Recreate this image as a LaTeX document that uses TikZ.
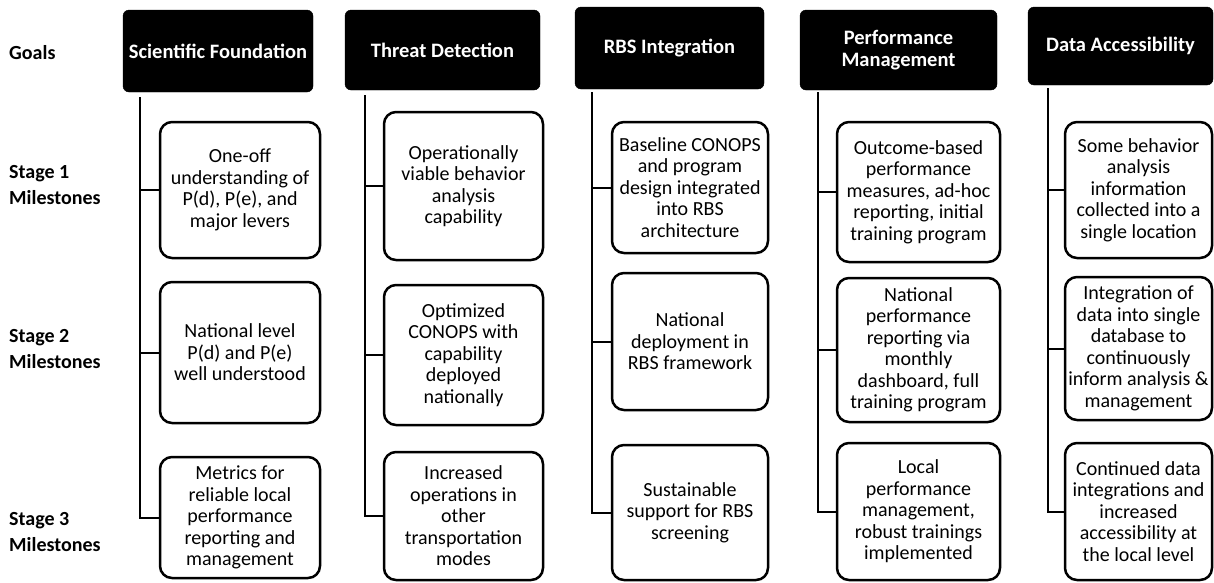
\documentclass[tikz,border=0pt]{standalone}
\usepackage{fontspec}
\setmainfont{Carlito}
\begin{document}
\begin{tikzpicture}[x=1pt,y=-1pt,
  goal/.style={fill=black, draw=black, rounded corners=6pt, text=white,
    font=\bfseries\fontsize{20.5}{21.5}\selectfont, align=center, inner sep=1pt},
  mbox/.style={draw=black, line width=2.5pt, rounded corners=12pt, fill=white,
    font=\fontsize{20}{21.5}\selectfont, align=center, inner sep=1pt},
  rowlab/.style={anchor=west, font=\bfseries\fontsize{20}{26}\selectfont, align=left, inner sep=0pt},
  link/.style={line width=2pt}]
\useasboundingbox (0,0) rectangle (1214,582);

% row labels
\node[rowlab] (lg) at (9,53) {Goals};
\node[rowlab] (l1) at (9,185) {Stage 1\\Milestones};
\node[rowlab] (l2) at (9,349) {Stage 2\\Milestones};
\node[rowlab] (l3) at (9,532) {Stage 3\\Milestones};

% goals
\node[goal, minimum width=190pt, minimum height=82pt] (g1) at (218,51) {Scientific Foundation};
\node[goal, minimum width=195pt, minimum height=80pt] (g2) at (442.5,50) {Threat Detection};
\node[goal, minimum width=189pt, minimum height=82pt] (g3) at (669.5,48) {RBS Integration};
\node[goal, minimum width=197pt, minimum height=80pt] (g4) at (898.5,50) {Performance\\Management};
\node[goal, minimum width=185pt, minimum height=78pt] (g5) at (1120.5,46) {Data Accessibility};

% column 1
\node[mbox, minimum width=160pt, minimum height=136pt] (a1) at (240,190) {One-off\\understanding of\\P(d), P(e), and\\major levers};
\node[mbox, minimum width=160pt, minimum height=141pt] (a2) at (240,352.5) {National level\\P(d) and P(e)\\well understood};
\node[mbox, minimum width=160pt, minimum height=121pt] (a3) at (240,517.5) {Metrics for\\reliable local\\performance\\reporting and\\management};
% column 2
\node[mbox, minimum width=159pt, minimum height=148pt] (b1) at (463.5,186) {Operationally\\viable behavior\\analysis\\capability};
\node[mbox, minimum width=159pt, minimum height=140pt] (b2) at (463.5,355) {Optimized\\CONOPS with\\capability\\deployed\\nationally};
\node[mbox, minimum width=159pt, minimum height=128pt] (b3) at (463.5,516) {Increased\\operations in\\other\\transportation\\modes};
% column 3
\node[mbox, minimum width=156pt, minimum height=131pt] (c1) at (690,187.5) {Baseline CONOPS\\and program\\design integrated\\into RBS\\architecture};
\node[mbox, minimum width=156pt, minimum height=137pt] (c2) at (690,341.5) {National\\deployment in\\RBS framework};
\node[mbox, minimum width=156pt, minimum height=135pt] (c3) at (690,512.5) {Sustainable\\support for RBS\\screening};
% column 4
\node[mbox, minimum width=163pt, minimum height=140pt] (d1) at (918.5,192) {Outcome-based\\performance\\measures, ad-hoc\\reporting, initial\\training program};
\node[mbox, minimum width=163pt, minimum height=144pt] (d2) at (918.5,350) {National\\performance\\reporting via\\monthly\\dashboard, full\\training program};
\node[mbox, minimum width=163pt, minimum height=137pt] (d3) at (918.5,511.5) {Local\\performance\\management,\\robust trainings\\implemented};
% column 5
\node[mbox, minimum width=147pt, minimum height=136pt] (e1) at (1138.5,190) {Some behavior\\analysis\\information\\collected into a\\single location};
\node[mbox, minimum width=147pt, minimum height=143pt] (e2) at (1138.5,348.5) {Integration of\\data into single\\database to\\continuously\\inform analysis \&\\management};
\node[mbox, minimum width=147pt, minimum height=137pt] (e3) at (1138.5,511.5) {Continued data\\integrations and\\increased\\accessibility at\\the local level};

% trunk tops
\coordinate (ta) at (140,97);
\coordinate (tb) at (365,95);
\coordinate (tc) at (592,92);
\coordinate (td) at (818,92);
\coordinate (te) at (1048,88);

% connectors
\foreach \t/\n in {ta/a, tb/b, tc/c, td/d, te/e}{
  \draw[link] (\t) |- (\n3.west);
  \draw[link] (\n1.west) -- (\n1.west -| \t);
  \draw[link] (\n2.west) -- (\n2.west -| \t);
}
\end{tikzpicture}
\end{document}
